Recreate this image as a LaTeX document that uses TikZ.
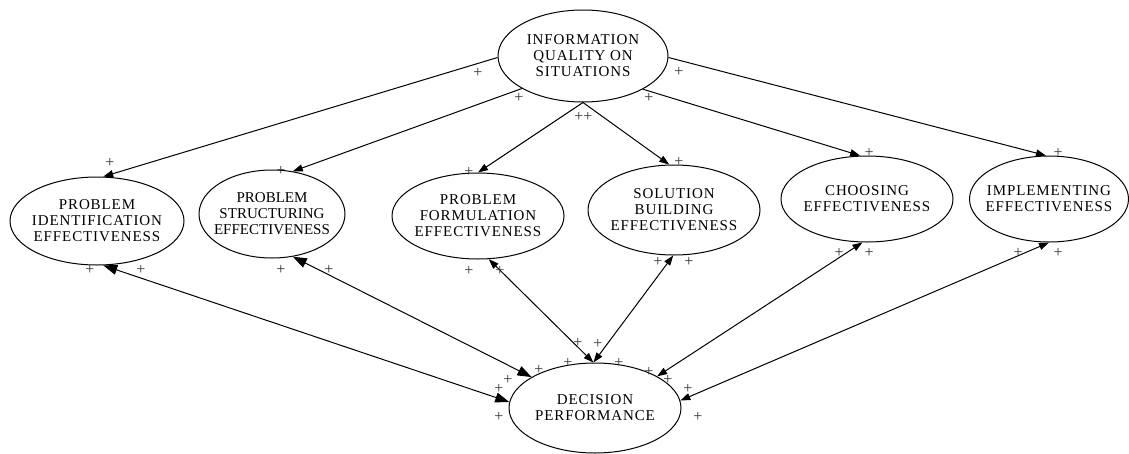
\documentclass[tikz,border=0pt]{standalone}
\usepackage{fontspec}
\setmainfont{Liberation Serif}
\newfontfamily\nodefont[LetterSpace=6]{Liberation Serif}
\newfontfamily\tightfont{Liberation Serif}
\usetikzlibrary{shapes.geometric,arrows.meta}

\tikzset{
    factor/.style={draw, ellipse, line width=1pt, inner xsep=-20pt, inner ysep=0pt,
        align=center, font=\nodefont\fontsize{15}{16}\selectfont},
    sign/.style={inner sep=0pt, text=black!80, font=\fontsize{16}{16}\selectfont},
    link/.style={line width=1pt, -{Triangle[length=10pt,width=7pt]}},
    both/.style={line width=1pt, {Triangle[length=10pt,width=7pt]}-{Triangle[length=10pt,width=7pt]}},
    bothbig/.style={line width=1pt, {Triangle[length=14pt,width=10pt]}-{Triangle[length=14pt,width=10pt]}}
}

\begin{document}
\begin{tikzpicture}[x=1pt, y=-1pt]
    \useasboundingbox (0,0) rectangle (1129,453);

    % factors
    \node[factor, minimum width=170pt, minimum height=92pt] (info) at (583,56) {INFORMATION\\QUALITY ON\\SITUATIONS};
    \node[factor, minimum width=174pt, minimum height=88pt] (ident) at (97,221) {PROBLEM\\IDENTIFICATION\\EFFECTIVENESS};
    \node[factor, minimum width=146pt, minimum height=88pt, font=\tightfont\fontsize{15}{16}\selectfont] (struct) at (272,214) {PROBLEM\\STRUCTURING\\EFFECTIVENESS};
    \node[factor, minimum width=172pt, minimum height=86pt] (form) at (478,216) {PROBLEM\\FORMULATION\\EFFECTIVENESS};
    \node[factor, minimum width=172pt, minimum height=90pt] (solve) at (674,210) {SOLUTION\\BUILDING\\EFFECTIVENESS};
    \node[factor, minimum width=172pt, minimum height=86pt] (choose) at (867,199) {CHOOSING\\EFFECTIVENESS};
    \node[factor, minimum width=159pt, minimum height=86pt] (impl) at (1049,199) {IMPLEMENTING\\EFFECTIVENESS};
    \node[factor, minimum width=172pt, minimum height=90pt] (decide) at (595,408) {DECISION\\PERFORMANCE};

    % information quality drives each phase
    \draw[link] (info.181) -- (ident.82);
    \draw[link] (info.208) -- (struct.64);
    \draw[link] (info.270) -- (form.90);
    \draw[link] (info.270) -- (solve.96);
    \draw[link] (info.331) -- (choose.99);
    \draw[link] (info.359) -- (impl.94);

    % phases and performance
    \draw[bothbig] (ident.278) -- (decide.176);
    \draw[bothbig] (struct.296) -- (decide.154);
    \draw[both] (form.284) -- (decide.92);
    \draw[both] (solve.269) -- (decide.92);
    \draw[both] (choose.264) -- (decide.27);
    \draw[both] (impl.270) -- (decide.5);

    % signs
    \foreach \px/\py [count=\i] in {478/73, 110/163, 519/98, 281/171, 579/117, 588/117,
        469/172, 679/162, 649/98, 869/153, 679/72, 1058/153,
        90/270, 141/270, 281/270, 329/270, 469/271, 500/271,
        658/262, 689/262, 839/253, 869/253, 1018/253, 1058/253,
        578/343, 598/344, 568/363, 619/363, 539/370, 649/372,
        508/380, 668/380, 499/389, 688/389, 499/417, 698/417}
        \node[sign] (plus\i) at (\px,\py) {+};
\end{tikzpicture}
\end{document}
